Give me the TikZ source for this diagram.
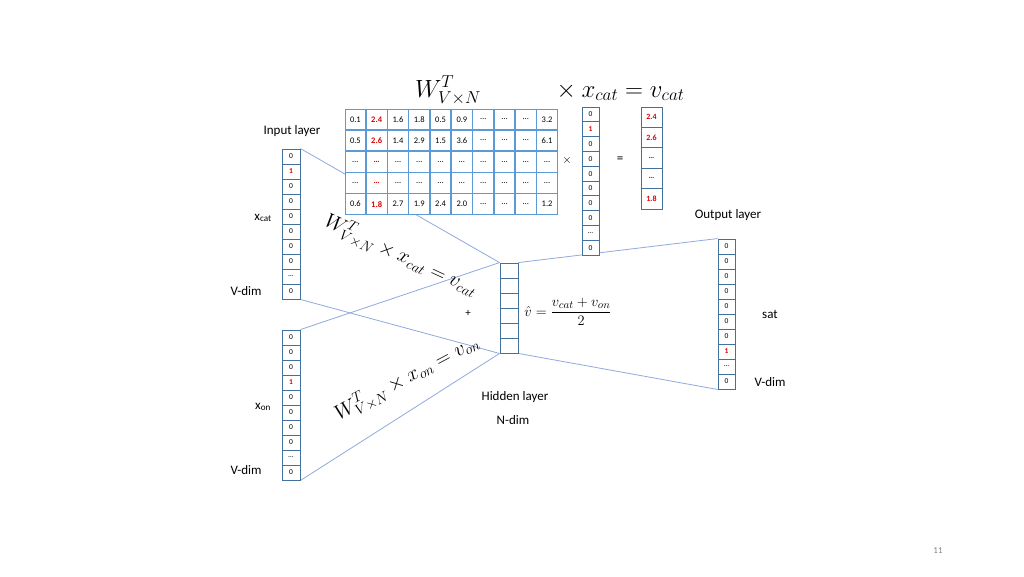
\documentclass[tikz,border=0pt]{standalone}
\usepackage{fontspec}
\setmainfont{Carlito}
\usetikzlibrary{matrix,backgrounds,positioning}
\definecolor{cellblue}{HTML}{41719C}
\definecolor{gridblue}{HTML}{5B9BD5}
\definecolor{linkblue}{HTML}{8FAADC}
\definecolor{hotred}{HTML}{E00000}
\newcommand{\hot}[1]{\textcolor{hotred}{\bfseries #1}}

\begin{document}
\begin{tikzpicture}
[x=1pt, y=-1pt,
vcell/.style={rectangle, draw=cellblue, line width=0.9pt, fill=white, inner sep=0pt, minimum width=18pt, minimum height=15pt, font=\fontsize{7.5}{8}\selectfont},
wcell/.style={rectangle, draw=gridblue, line width=1pt, fill=white, inner sep=0pt, anchor=center, minimum width=20.7pt, minimum height=20.6pt, font=\fontsize{8.5}{9}\selectfont},
label/.style={font=\fontsize{13}{15}\selectfont},
link/.style={draw=linkblue, line width=0.8pt},
big/.style={inner sep=0pt, font=\fontsize{24}{28}\selectfont},
slanted/.style={inner sep=0pt, font=\fontsize{22}{26}\selectfont}]

\useasboundingbox (0,0) rectangle (1024,576);

% input layer vectors
\foreach \v [count=\i] in {0,\hot{1},0,0,0,0,0,0,…,0}
  \node[vcell] (xcat-\i) at (291,{141.5+15*\i}) {\v};
\foreach \v [count=\i] in {0,0,0,\hot{1},0,0,0,0,…,0}
  \node[vcell] (xon-\i) at (291,{322.5+15*\i}) {\v};

% hidden layer
\foreach \i in {1,...,6}
  \node[vcell] (hid-\i) at (509,{255.5+15*\i}) {};

% output layer
\foreach \v [count=\i] in {0,0,0,0,0,0,0,\hot{1},…,0}
  \node[vcell, minimum width=17pt] (out-\i) at (726.5,{231.5+15*\i}) {\v};

% weight matrix
\matrix (W) [matrix of nodes, anchor=north west, nodes={wcell},
  column sep=-\pgflinewidth, row sep=-\pgflinewidth] at (341,105) {
0.1 & \hot{2.4} & 1.6 & 1.8 & 0.5 & 0.9 & … & … & … & 3.2 \\
0.5 & \hot{2.6} & 1.4 & 2.9 & 1.5 & 3.6 & … & … & … & 6.1 \\
… & \hot{…} & … & … & … & … & … & … & … & … \\
… & \hot{…} & … & … & … & … & … & … & … & … \\
0.6 & \hot{1.8} & 2.7 & 1.9 & 2.4 & 2.0 & … & … & … & 1.2 \\
};

% one-hot vector and result
\foreach \v [count=\i] in {0,\hot{1},0,0,0,0,0,0,…,0}
  \node[vcell, minimum width=17pt, minimum height=14.8pt] (sel-\i) at (590.5,{99.6+14.8*\i}) {\v};
\foreach \v [count=\i] in {2.4,2.6,…,…,1.8}
  \node[vcell, minimum width=21pt, minimum height=20.4pt, font=\fontsize{8}{9}\selectfont] (vcat-\i) at (651.5,{96.8+20.4*\i}) {\hot{\v}};

\node[big, anchor=base] (wtitle) at (448,97) {$W^{T}_{V\times N}$};
\node[big, anchor=base west] (prodtitle) at (551,97) {${}\times x_{cat} = v_{cat}$};
\node[label] (times) at (567,160) {$\times$};
\node[label] (equals) at (620,160) {=};

% formulas along the links
\node[slanted, rotate=-25] (catformula) at (401,256) {$W^{T}_{V\times N}\times x_{cat}=v_{cat}$};
\node[slanted, rotate=28] (onformula) at (407,378) {$W^{T}_{V\times N}\times x_{on}=v_{on}$};
\node[font=\fontsize{11}{12}\selectfont] (plus) at (468,313) {+};
\node[inner sep=1pt, font=\fontsize{15}{18}\selectfont] (avg) at (568,312) {$\hat{v}=\displaystyle\frac{v_{cat}+v_{on}}{2}$};

% labels
\node[label] (inlabel) at (292,131) {Input layer};
\node[label] (catlabel) at (263,218) {x\textsubscript{cat}};
\node[label] (catdim) at (246,291) {V-dim};
\node[label] (onlabel) at (263,407) {x\textsubscript{on}};
\node[label] (ondim) at (246,470) {V-dim};
\node[label] (hidlabel) at (515,397) {Hidden layer};
\node[label] (hiddim) at (513,420) {N-dim};
\node[label] (outlabel) at (728,215) {Output layer};
\node[label] (outword) at (770,314) {sat};
\node[label] (outdim) at (770,382) {V-dim};
\node[text=gray, font=\fontsize{9}{10}\selectfont] (pagenum) at (938,551) {11};

\begin{scope}[on background layer]
\fill[white] (0,0) rectangle (1024,576);
\draw[link] (xcat-1.north east) -- (hid-1.north west);
\draw[link] (xcat-10.south east) -- (hid-6.south west);
\draw[link] (xon-1.north east) -- (hid-1.north west);
\draw[link] (xon-10.south east) -- (hid-6.south west);
\draw[link] (hid-1.north east) -- (out-1.north west);
\draw[link] (hid-6.south east) -- (out-10.south west);
\end{scope}
\end{tikzpicture}
\end{document}
